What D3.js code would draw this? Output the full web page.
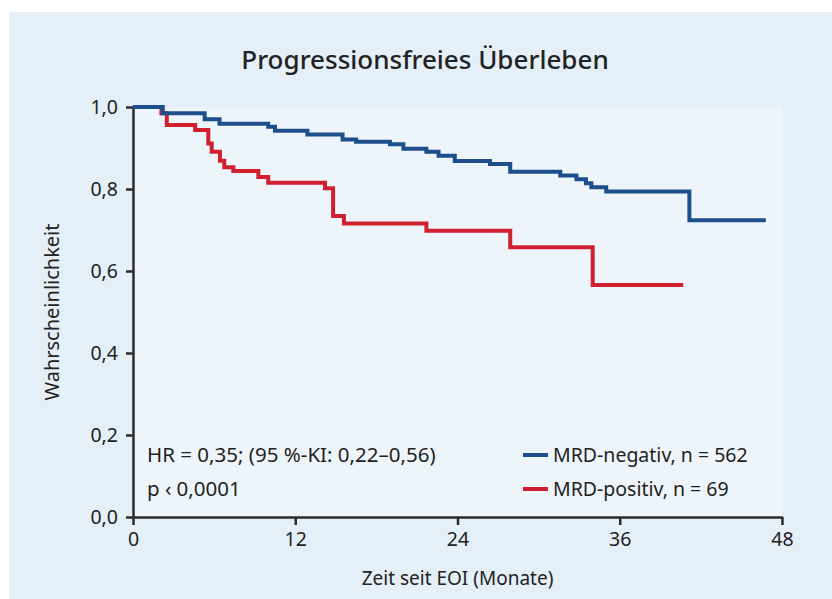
<!DOCTYPE html>
<html lang="de">
<head>
<meta charset="UTF-8">
<title>Progressionsfreies Überleben</title>
<script src="https://d3js.org/d3.v7.min.js"></script>
<style>
  body { margin: 0; background: #fff; }
  svg text { font-family: "Noto Sans", "Open Sans", sans-serif; fill: #222; }
  .axis path, .axis line { stroke: #2b2b2b; stroke-width: 2.5; }
  .axis text { font-size: 19.5px; }
  .km { fill: none; stroke-width: 4; }
</style>
</head>
<body>
<svg width="832" height="599"></svg>
<script>
// Kaplan-Meier steps: [Monate, Wahrscheinlichkeit]
const negMonths = [0, 2.2, 5.3, 6.4, 10.0, 10.5, 12.9, 15.5, 16.5, 19.0, 20.0, 21.7, 22.6, 23.8, 26.4, 27.9, 31.6, 32.8, 33.5, 33.9, 35.0, 41.15, 46.8];
const negValues = [1.0, 0.985, 0.970, 0.959, 0.952, 0.942, 0.933, 0.921, 0.915, 0.909, 0.898, 0.891, 0.881, 0.868, 0.861, 0.842, 0.833, 0.824, 0.814, 0.804, 0.794, 0.724, 0.724];
const posMonths = [0, 2.1, 2.5, 4.6, 5.57, 5.82, 6.43, 6.75, 7.42, 9.27, 10.0, 14.2, 14.8, 15.6, 21.7, 27.9, 34.0, 40.7];
const posValues = [1.0, 0.985, 0.956, 0.944, 0.911, 0.891, 0.869, 0.853, 0.844, 0.829, 0.815, 0.802, 0.734, 0.716, 0.698, 0.658, 0.566, 0.566];

const xTicks = [0, 12, 24, 36, 48];
const yTicks = [0, 0.2, 0.4, 0.6, 0.8, 1.0];
const seriesNames = ["MRD-negativ, n = 562", "MRD-positiv, n = 69"];
const seriesColors = ["#1d4f8c", "#d0202f"];
const statLines = ["HR = 0,35; (95 %-KI: 0,22\u20130,56)", "p \u2039 0,0001"];

const svg = d3.select("svg");
const margin = { top: 107, right: 50, bottom: 82, left: 133 };
const width = 832 - margin.left - margin.right;
const height = 599 - margin.top - margin.bottom;

// outer panel
svg.append("rect")
    .attr("x", 9).attr("y", 12)
    .attr("width", 823).attr("height", 587)
    .attr("fill", "#e4eff8");

const g = svg.append("g")
    .attr("transform", `translate(${margin.left},${margin.top})`);

// inner plot area
g.append("rect")
    .attr("width", width).attr("height", height)
    .attr("fill", "#eef5fa");

const x = d3.scaleLinear().domain([0, 48]).range([0, width]);
const y = d3.scaleLinear().domain([0, 1]).range([height, 0]);

const fmt = d => d3.format(".1f")(d).replace(".", ",");

g.append("g")
    .attr("class", "axis")
    .attr("transform", `translate(0,${height})`)
    .call(d3.axisBottom(x).tickValues(xTicks).tickSize(8).tickPadding(7).tickSizeOuter(0))
    .call(a => a.selectAll("text").attr("fill", "#222"));

g.append("g")
    .attr("class", "axis")
    .call(d3.axisLeft(y).tickValues(yTicks).tickFormat(fmt).tickSize(7).tickPadding(8).tickSizeOuter(0))
    .call(a => a.selectAll("text").attr("fill", "#222"));

// curves
const line = d3.line()
    .x(d => x(d[0]))
    .y(d => y(d[1]))
    .curve(d3.curveStepAfter);

const series = [
    d3.zip(negMonths, negValues),
    d3.zip(posMonths, posValues)
];

// red drawn first, blue on top
[1, 0].forEach(i => {
    g.append("path")
        .datum(series[i])
        .attr("class", "km")
        .attr("stroke", seriesColors[i])
        .attr("d", line);
});

// title
svg.append("text")
    .attr("x", 425).attr("y", 69)
    .attr("text-anchor", "middle")
    .attr("font-size", "26px")
    .attr("font-weight", "500")
    .text("Progressionsfreies \u00dcberleben");

// axis titles
svg.append("text")
    .attr("x", margin.left + width / 2).attr("y", 585)
    .attr("text-anchor", "middle")
    .attr("font-size", "19px")
    .text("Zeit seit EOI (Monate)");

svg.append("text")
    .attr("transform", `translate(59,${margin.top + height / 2}) rotate(-90)`)
    .attr("text-anchor", "middle")
    .attr("font-size", "20px")
    .text("Wahrscheinlichkeit");

// statistics
statLines.forEach((t, i) => {
    g.append("text")
        .attr("x", 14).attr("y", 355 + i * 34)
        .attr("font-size", "20.5px")
        .text(t);
});

// legend
const legend = g.append("g").attr("transform", `translate(390,348)`);
seriesNames.forEach((name, i) => {
    legend.append("line")
        .attr("x1", 0).attr("x2", 25)
        .attr("y1", i * 34).attr("y2", i * 34)
        .attr("stroke", seriesColors[i])
        .attr("stroke-width", 4);
    legend.append("text")
        .attr("x", 30).attr("y", i * 34 + 7)
        .attr("font-size", "19.5px")
        .text(name);
});
</script>
</body>
</html>
